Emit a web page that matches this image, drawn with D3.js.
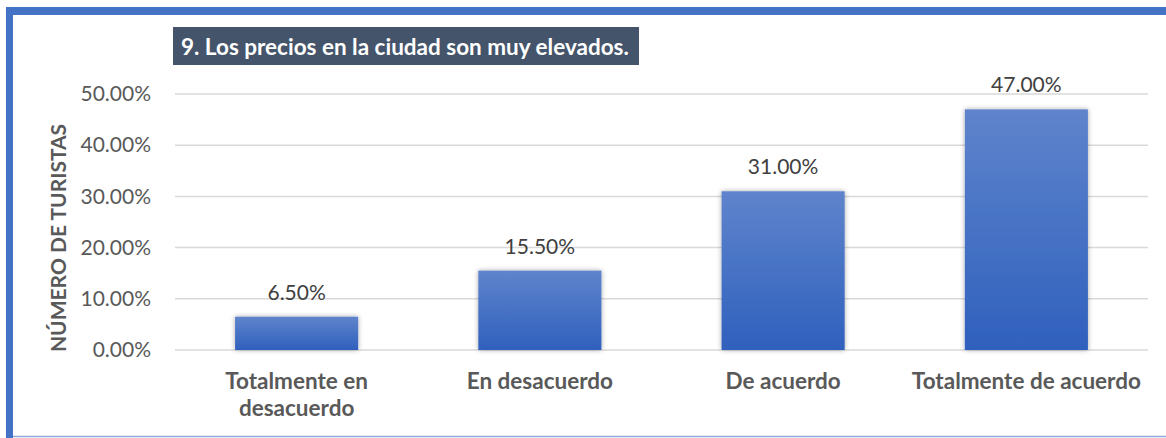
<!DOCTYPE html>
<html>
<head>
<meta charset="utf-8">
<script src="https://cdn.jsdelivr.net/npm/d3@7"></script>
<style>
  body { margin: 0; background: #fff; }
  text { font-family: Lato, "Open Sans", sans-serif; }
</style>
</head>
<body>
<div id="chart"></div>
<script>
// chart data
var categories = ['Totalmente en\ndesacuerdo', 'En desacuerdo', 'De acuerdo', 'Totalmente de acuerdo'];
var values = [6.5, 15.5, 31.0, 47.0];
var yTicks = [0, 10, 20, 30, 40, 50];
var chartTitle = '9. Los precios en la ciudad son muy elevados.';
var yTitle = 'NÚMERO DE TURISTAS';

// svg area
var svgWidth = 1166;
var svgHeight = 438;

var margin = { top: 94, bottom: 88, right: 18, left: 175 };
var width = svgWidth - margin.left - margin.right;
var height = svgHeight - margin.top - margin.bottom;

var svg = d3.select('#chart')
    .append('svg')
    .attr('width', svgWidth)
    .attr('height', svgHeight);

var defs = svg.append('defs');

var grad = defs.append('linearGradient')
    .attr('id', 'barGrad')
    .attr('x1', 0).attr('y1', 0).attr('x2', 0).attr('y2', 1);
grad.append('stop').attr('offset', '0%').attr('stop-color', '#5f84cc');
grad.append('stop').attr('offset', '100%').attr('stop-color', '#2f60bd');

var shadow = defs.append('filter')
    .attr('id', 'barShadow')
    .attr('x', '-20%').attr('y', '-20%').attr('width', '140%').attr('height', '140%');
shadow.append('feDropShadow')
    .attr('dx', 0).attr('dy', 0)
    .attr('stdDeviation', 2.5)
    .attr('flood-color', '#000')
    .attr('flood-opacity', 0.35);

// frame
svg.append('rect')
    .attr('x', 6).attr('y', 7)
    .attr('width', svgWidth - 6).attr('height', 8)
    .attr('fill', '#4472c4');
svg.append('rect')
    .attr('x', 6).attr('y', 7)
    .attr('width', 7).attr('height', svgHeight - 7)
    .attr('fill', '#4472c4');
svg.append('line')
    .attr('x1', 13).attr('x2', svgWidth)
    .attr('y1', 436.5).attr('y2', 436.5)
    .attr('stroke', '#8faadc')
    .attr('stroke-width', 1.5);

var chartGroup = svg.append('g')
    .attr('transform', `translate(${margin.left}, ${margin.top})`);

var xScale = d3.scaleBand()
    .domain(categories)
    .range([0, width])
    .paddingInner(0.494)
    .paddingOuter(0.247);

var yScale = d3.scaleLinear()
    .domain([0, 50])
    .range([height, 0]);

// grid lines
chartGroup.append('g')
    .selectAll('line')
    .data(yTicks)
    .enter()
    .append('line')
    .attr('x1', 0)
    .attr('x2', width)
    .attr('y1', d => yScale(d))
    .attr('y2', d => yScale(d))
    .attr('stroke', '#d9d9d9')
    .attr('stroke-width', 1.5);

// y axis
var leftAxis = d3.axisLeft(yScale)
    .tickValues(yTicks)
    .tickSize(0)
    .tickPadding(24)
    .tickFormat(d => d.toFixed(2) + '%');

var yAxis = chartGroup.append('g').call(leftAxis);
yAxis.select('.domain').remove();
yAxis.selectAll('text')
    .attr('fill', '#595959')
    .style('font-size', '21px');

// bars
chartGroup.selectAll('rect.bar')
    .data(values)
    .enter()
    .append('rect')
    .classed('bar', true)
    .attr('x', (d, i) => xScale(categories[i]))
    .attr('y', d => yScale(d))
    .attr('width', xScale.bandwidth())
    .attr('height', d => height - yScale(d))
    .attr('fill', 'url(#barGrad)')
    .attr('filter', 'url(#barShadow)');

// value labels
chartGroup.selectAll('text.val')
    .data(values)
    .enter()
    .append('text')
    .classed('val', true)
    .attr('x', (d, i) => xScale(categories[i]) + xScale.bandwidth() / 2)
    .attr('y', d => yScale(d) - 17)
    .attr('text-anchor', 'middle')
    .attr('fill', '#404040')
    .style('font-size', '21px')
    .text(d => d.toFixed(2) + '%');

// x labels
var xLabels = chartGroup.selectAll('text.cat')
    .data(categories)
    .enter()
    .append('text')
    .classed('cat', true)
    .attr('x', d => xScale(d) + xScale.bandwidth() / 2)
    .attr('y', height + 39)
    .attr('text-anchor', 'middle')
    .attr('fill', '#595959')
    .style('font-size', '22.5px')
    .style('font-weight', 'bold');

xLabels.each(function (d) {
    var lines = d.split('\n');
    var t = d3.select(this);
    lines.forEach(function (line, i) {
        t.append('tspan')
            .attr('x', t.attr('x'))
            .attr('dy', i === 0 ? 0 : 27)
            .text(line);
    });
});

// y title
svg.append('text')
    .attr('transform', `translate(66, 238) rotate(-90)`)
    .attr('text-anchor', 'middle')
    .attr('fill', '#595959')
    .style('font-size', '21px')
    .style('font-weight', 'bold')
    .text(yTitle);

// title box
svg.append('rect')
    .attr('x', 173).attr('y', 27)
    .attr('width', 466).attr('height', 38)
    .attr('fill', '#44546a');
svg.append('text')
    .attr('x', 181)
    .attr('y', 55)
    .attr('fill', '#fff')
    .style('font-size', '22.5px')
    .style('font-weight', 'bold')
    .text(chartTitle);
</script>
</body>
</html>
